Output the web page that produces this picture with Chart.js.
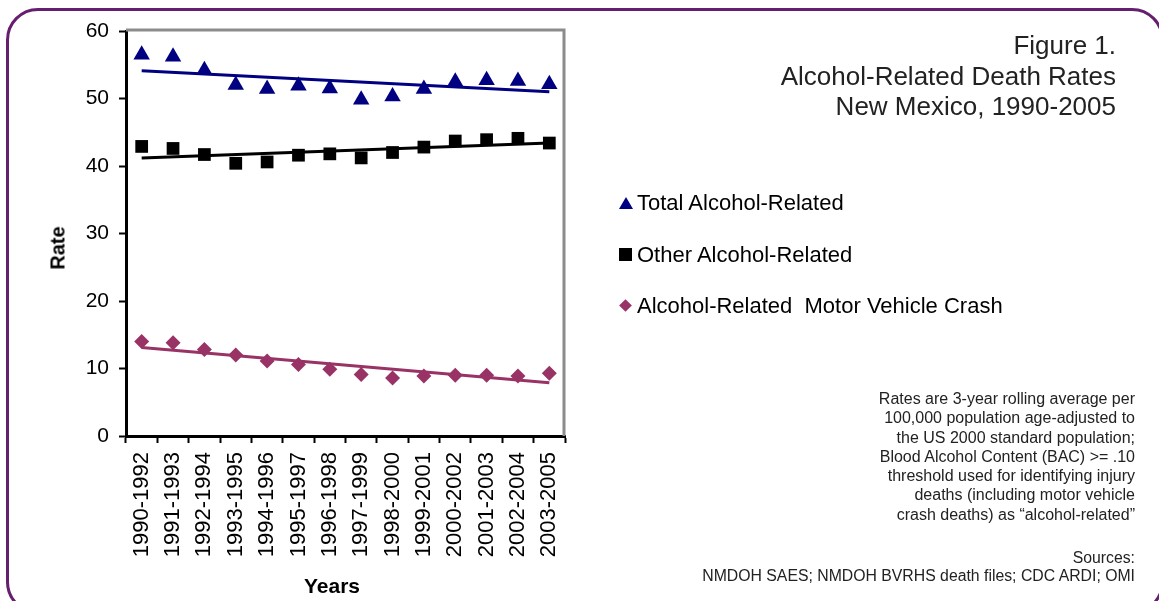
<!DOCTYPE html>
<html>
<head>
<meta charset="utf-8">
<script src="https://cdn.jsdelivr.net/npm/chart.js@4.4.1/dist/chart.umd.min.js"></script>
<style>
  body { margin: 0; width: 1159px; height: 601px; overflow: hidden; background: #fff;
         font-family: "Liberation Sans", Arial, sans-serif; position: relative; }
  #frame { position: absolute; left: 6px; top: 8px; width: 1152px; height: 600px;
           border: 3px solid #661f6e; border-radius: 32px; }
  #wrap { position: absolute; left: 0; top: 0; width: 1159px; height: 601px; }
  .t { position: absolute; white-space: nowrap; color: #000; }
  #title { right: 43px; top: 30px; font-size: 26px; line-height: 30.5px; text-align: right; color: #222; }
  .leg { position: absolute; left: 619px; height: 24px; font-size: 22px; line-height: 24px; white-space: nowrap; }
  .leg span.m { position: absolute; left: 0; }
  .leg span.txt { position: absolute; left: 18px; top: 0; }
  .tri { top: 6px; width: 0; height: 0; border-left: 7px solid transparent; border-right: 7px solid transparent; border-bottom: 12px solid #000080; }
  .sq { top: 5px; width: 13px; height: 13px; background: #000; }
  .dia { top: 7px; left: 2px !important; width: 9px; height: 9px; background: #993366; transform: rotate(45deg); }
  #notes { right: 24px; top: 389px; font-size: 16px; line-height: 19.3px; text-align: right; color: #222; }
  #sources { right: 24px; top: 549px; font-size: 15.8px; line-height: 18px; text-align: right; color: #222; }
  #ytitle { left: 58px; top: 248px; font-size: 20px; font-weight: bold; transform: translate(-50%, -50%) rotate(-90deg); }
  #xtitle { left: 332px; top: 586px; font-size: 21px; font-weight: bold; transform: translate(-50%, -50%); }
</style>
</head>
<body>
<div id="frame"></div>
<div id="wrap"><canvas id="chart" width="1159" height="601"></canvas></div>

<div class="t" id="title">Figure 1.<br>Alcohol-Related Death Rates<br>New Mexico, 1990-2005</div>

<div class="leg" style="top:191px"><span class="m tri"></span><span class="txt">Total Alcohol-Related</span></div>
<div class="leg" style="top:243px"><span class="m sq"></span><span class="txt">Other Alcohol-Related</span></div>
<div class="leg" style="top:294px"><span class="m dia"></span><span class="txt">Alcohol-Related&nbsp; Motor Vehicle Crash</span></div>

<div class="t" id="notes">Rates are 3-year rolling average per<br>100,000 population age-adjusted to<br>the US 2000 standard population;<br>Blood Alcohol Content (BAC) &gt;= .10<br>threshold used for identifying injury<br>deaths (including motor vehicle<br>crash deaths) as “alcohol-related”</div>
<div class="t" id="sources">Sources:<br>NMDOH SAES; NMDOH BVRHS death files; CDC ARDI; OMI</div>

<div class="t" id="ytitle">Rate</div>
<div class="t" id="xtitle">Years</div>

<script>
// categories (3-year periods)
const periods = ['1990-1992', '1991-1993', '1992-1994', '1993-1995', '1994-1996', '1995-1997', '1996-1998',
                 '1997-1999', '1998-2000', '1999-2001', '2000-2002', '2001-2003', '2002-2004', '2003-2005'];

// rates per 100,000
const totalRates = [56.5, 56.2, 54.2, 52.0, 51.4, 51.9, 51.5, 49.8, 50.3, 51.4, 52.5, 52.7, 52.6, 52.1];
const otherRates = [42.9, 42.6, 41.7, 40.4, 40.6, 41.6, 41.8, 41.2, 42.0, 42.8, 43.7, 43.9, 44.1, 43.4];
const crashRates = [14.0, 13.8, 12.8, 12.0, 11.1, 10.6, 9.9, 9.1, 8.6, 8.9, 9.0, 9.0, 8.9, 9.3];

// linear trendlines: only the two end values
const totalTrend = [54.1, null, null, null, null, null, null, null, null, null, null, null, null, 51.0];
const otherTrend = [41.2, null, null, null, null, null, null, null, null, null, null, null, null, 43.4];
const crashTrend = [13.1, null, null, null, null, null, null, null, null, null, null, null, null, 7.9];

const yTicks = [0, 10, 20, 30, 40, 50, 60];

const FONT = '"Liberation Sans", Arial, sans-serif';

// grey frame on the top and right of the plot
const plotFrame = {
  id: 'plotFrame',
  beforeDatasetsDraw(chart) {
    const { ctx, chartArea: a } = chart;
    ctx.save();
    ctx.strokeStyle = '#8c8c8c';
    ctx.lineWidth = 3;
    ctx.beginPath();
    ctx.moveTo(a.left, a.top - 1);
    ctx.lineTo(a.right - 1, a.top - 1);
    ctx.lineTo(a.right - 1, a.bottom);
    ctx.stroke();
    ctx.restore();
  }
};

function trend(data, color) {
  return { data: data, borderColor: color, borderWidth: 3, pointRadius: 0, spanGaps: true, fill: false };
}
function points(data, color, style, r) {
  return { data: data, showLine: false, pointStyle: style, pointRadius: r, pointHoverRadius: r,
           pointBackgroundColor: color, pointBorderColor: color, pointBorderWidth: 0, borderColor: color };
}

new Chart(document.getElementById('chart'), {
  type: 'line',
  data: {
    labels: periods,
    datasets: [
      trend(totalTrend, '#000080'),
      trend(otherTrend, '#000000'),
      trend(crashTrend, '#993366'),
      points(totalRates, '#000080', 'triangle', 9.5),
      points(otherRates, '#000000', 'rect', 9),
      points(crashRates, '#993366', 'rectRot', 7.5)
    ]
  },
  options: {
    responsive: false,
    animation: false,
    layout: { padding: { left: 0, top: 31, right: 594, bottom: 0 } },
    plugins: { legend: { display: false }, tooltip: { enabled: false } },
    scales: {
      x: {
        offset: true,
        ticks: { minRotation: 90, maxRotation: 90, autoSkip: false, color: '#000', padding: 9,
                 font: { family: FONT, size: 22 } },
        grid: { offset: true, drawOnChartArea: false, tickLength: 7, tickWidth: 2, tickColor: '#000' },
        border: { color: '#000', width: 3 },
        afterFit: s => { s.height = 165; }
      },
      y: {
        min: yTicks[0],
        max: yTicks[yTicks.length - 1],
        afterBuildTicks: s => { s.ticks = yTicks.map(v => ({ value: v })); },
        ticks: { color: '#000', padding: 10, font: { family: FONT, size: 21 } },
        grid: { drawOnChartArea: false, tickLength: 7, tickWidth: 2, tickColor: '#000' },
        border: { color: '#000', width: 3 },
        afterFit: s => { s.width = 126; }
      }
    }
  },
  plugins: [plotFrame]
});
</script>
</body>
</html>
